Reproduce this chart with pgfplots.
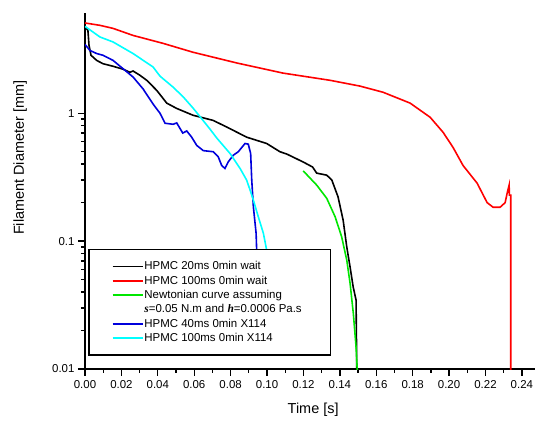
\documentclass[border=0pt]{standalone}
\usepackage{pgfplots}
\pgfplotsset{compat=1.18}
\usepackage{fontspec}
\setmainfont{Liberation Sans}
\newfontfamily\seriffont{Liberation Serif}
\definecolor{cred}{RGB}{255,0,0}
\definecolor{cgreen}{RGB}{0,230,0}
\definecolor{cblue}{RGB}{0,0,220}
\definecolor{ccyan}{RGB}{0,255,255}
\begin{document}
\begin{tikzpicture}
\path[use as bounding box] (-85bp,-52bp) rectangle (450bp,369bp);
\begin{axis}[
  at={(0,0)}, anchor=south west,
  scale only axis, width=450bp, height=356bp,
  xmin=0, xmax=0.2472, ymin=0.01, ymax=6.08,
  ymode=log,
  axis x line=bottom, axis y line=left,
  axis line style={-, line width=1.6bp, black},
  tick align=outside,
  major tick length=7bp, minor tick length=4bp,
  every tick/.style={line width=1.3bp, black},
  xtick={0,0.02,0.04,0.06,0.08,0.10,0.12,0.14,0.16,0.18,0.20,0.22,0.24},
  xticklabels={0.00,0.02,0.04,0.06,0.08,0.10,0.12,0.14,0.16,0.18,0.20,0.22,0.24},
  minor x tick num=1,
  ytick={0.01,0.1,1},
  yticklabels={0.01,0.1,1},
  tick label style={font=\fontsize{11.5}{13}\selectfont},
  xticklabel style={yshift=-1bp},
  xlabel={Time [s]}, ylabel={Filament Diameter [mm]},
  every axis x label/.style={at={(axis description cs:0.507,-0.115)}, anchor=center, font=\fontsize{14.5}{16}\selectfont},
  every axis y label/.style={at={(axis description cs:-0.1444,0.593)}, anchor=center, rotate=90, font=\fontsize{14.5}{16}\selectfont},
  legend cell align=left,
  legend image code/.code={\draw[line width=1.6bp,#1,fill=none] (0bp,0bp) -- (30bp,0bp);},
  legend style={at={(rel axis cs:0.0067,0.0365)}, anchor=south west,
    draw=black, line width=1.6bp, fill=white, inner xsep=23bp, inner ysep=10.5bp,
    font=\fontsize{11.5}{13.5}\selectfont, row sep=0.9bp,
    nodes={inner xsep=1bp, inner ysep=1.8bp, fill=none, draw=none}},
  clip=true,
]
\addplot[black, line width=1.6bp] coordinates {
(0,4.72) (0.0016,4.45) (0.0022,3.40) (0.0033,2.84) (0.0064,2.59) (0.0099,2.44)
(0.0154,2.33) (0.0209,2.21) (0.0247,2.09) (0.0264,2.14) (0.0302,1.98) (0.0339,1.81)
(0.0394,1.51) (0.0449,1.20) (0.0504,1.09) (0.0593,0.965) (0.0703,0.88) (0.0779,0.78)
(0.0888,0.65) (0.0998,0.58) (0.1071,0.50) (0.1108,0.48) (0.1198,0.416) (0.1250,0.38)
(0.1273,0.34) (0.1328,0.328) (0.1356,0.30) (0.1390,0.222) (0.1418,0.146) (0.1438,0.090)
(0.1456,0.063) (0.1473,0.044) (0.1489,0.0346) (0.1493,0.0095)};
\addlegendentry{\makebox[162bp][l]{HPMC 20ms 0min wait}}
\addplot[cred, line width=1.6bp] coordinates {
(0,5.08) (0.0082,4.87) (0.0154,4.61) (0.0264,4.06) (0.0429,3.52) (0.0593,3.00)
(0.0835,2.47) (0.1088,2.06) (0.1346,1.81) (0.1511,1.63) (0.1637,1.46) (0.1786,1.20)
(0.1896,0.93) (0.1967,0.71) (0.2022,0.54) (0.2077,0.39) (0.2154,0.284) (0.2209,0.20)
(0.2242,0.184) (0.2280,0.184) (0.2308,0.20) (0.2319,0.237) (0.2330,0.274) (0.2331,0.229)
(0.2339,0.229) (0.2339,0.009)};
\addlegendentry{HPMC 100ms 0min wait}
\addplot[cgreen, line width=1.6bp] coordinates {
(0.1199,0.354) (0.1273,0.274) (0.1328,0.216) (0.1374,0.155) (0.1410,0.108)
(0.1438,0.071) (0.1456,0.047) (0.1474,0.0272) (0.1489,0.0149) (0.1496,0.0095)};
\addlegendentry{Newtonian curve assuming}
\addlegendimage{empty legend}
\addlegendentry{{\seriffont\bfseries\itshape s}=0.05 N.m and {\seriffont\bfseries\itshape h}=0.0006 Pa.s}
\addplot[cblue, line width=1.6bp] coordinates {
(0,3.45) (0.0027,3.10) (0.0064,2.93) (0.0099,2.84) (0.0154,2.59) (0.0209,2.23)
(0.0264,1.92) (0.0319,1.55) (0.0374,1.18) (0.0412,1.0) (0.0440,0.835) (0.0484,0.82)
(0.0504,0.84) (0.0522,0.76) (0.0537,0.70) (0.0559,0.727) (0.0586,0.65) (0.0614,0.56)
(0.0650,0.51) (0.0705,0.50) (0.0732,0.456) (0.0751,0.39) (0.0769,0.37) (0.0787,0.417)
(0.0815,0.47) (0.0842,0.50) (0.0879,0.58) (0.0897,0.573) (0.0910,0.484) (0.0916,0.30)
(0.0925,0.185) (0.0940,0.115) (0.0943,0.085) (0.0948,0.04)};
\addlegendentry{HPMC 40ms 0min X114}
\addplot[ccyan, line width=1.6bp] coordinates {
(0,4.78) (0.0082,3.95) (0.0154,3.61) (0.0264,2.93) (0.0374,2.30) (0.0412,1.95)
(0.0484,1.60) (0.0540,1.34) (0.0593,1.10) (0.0632,0.94) (0.0687,0.75) (0.0724,0.64)
(0.0797,0.484) (0.0852,0.37) (0.0888,0.30) (0.0907,0.25) (0.0925,0.209) (0.0952,0.155)
(0.0980,0.115) (0.0998,0.085) (0.1016,0.059) (0.1030,0.04)};
\addlegendentry{HPMC 100ms 0min X114}
\end{axis}
\end{tikzpicture}
\end{document}
